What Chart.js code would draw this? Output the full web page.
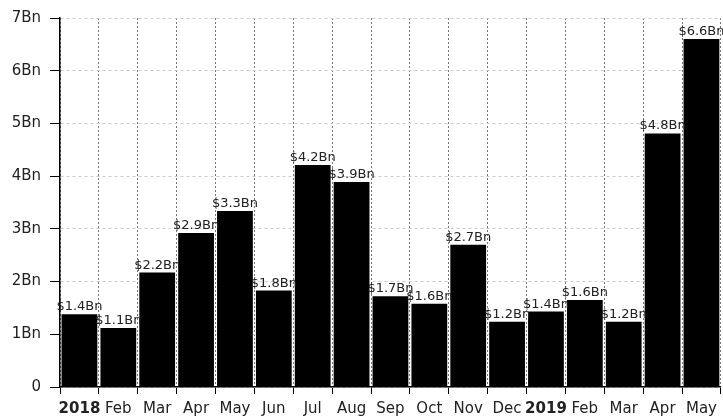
<!DOCTYPE html>
<html>
<head>
<meta charset="utf-8">
<script src="https://cdn.jsdelivr.net/npm/chart.js@4"></script>
<style>
  html, body { margin: 0; padding: 0; background: #fff; }
  #wrap { width: 723px; height: 419px; }
</style>
</head>
<body>
<div id="wrap"><canvas id="salesChart"></canvas></div>
<script>
// month labels (years shown in bold)
const months = ['2018', 'Feb', 'Mar', 'Apr', 'May', 'Jun', 'Jul', 'Aug', 'Sep', 'Oct', 'Nov', 'Dec',
                '2019', 'Feb', 'Mar', 'Apr', 'May'];
// values in billions
const values = [1.38, 1.12, 2.17, 2.92, 3.34, 1.83, 4.21, 3.89, 1.72, 1.58, 2.70, 1.24,
                1.43, 1.65, 1.24, 4.81, 6.60];
const yTicks = [0, 1, 2, 3, 4, 5, 6, 7];

const FONT = 'DejaVu Sans';

// draws "$x.xBn" above each bar
const valueLabels = {
    id: 'valueLabels',
    afterDatasetsDraw(chart) {
        const ctx = chart.ctx;
        const meta = chart.getDatasetMeta(0);
        ctx.save();
        ctx.font = '13px "' + FONT + '"';
        ctx.fillStyle = '#222';
        ctx.textAlign = 'center';
        ctx.textBaseline = 'alphabetic';
        meta.data.forEach((bar, i) => {
            ctx.fillText('$' + values[i].toFixed(1) + 'Bn', bar.x, bar.y - 4);
        });
        ctx.restore();
    }
};

const ctx = document.getElementById('salesChart').getContext('2d');

new Chart(ctx, {
    type: 'bar',
    data: {
        labels: months,
        datasets: [{
            data: values,
            backgroundColor: '#000',
            borderWidth: 0,
            categoryPercentage: 1.0,
            barPercentage: 0.92
        }]
    },
    options: {
        responsive: true,
        maintainAspectRatio: false,
        animation: false,
        layout: { padding: { top: 16, right: 1, left: 0, bottom: 0 } },
        plugins: {
            legend: { display: false },
            tooltip: { enabled: false }
        },
        scales: {
            x: {
                grid: {
                    offset: true,
                    color: '#777',
                    tickColor: '#000',
                    tickLength: 7,
                    tickBorderDash: []
                },
                border: { display: true, color: '#000', width: 1.5, dash: [2, 2] },
                ticks: {
                    color: '#222',
                    padding: 6,
                    maxRotation: 0,
                    autoSkip: false,
                    font: c => ({
                        family: FONT,
                        size: 15,
                        weight: /^\d{4}$/.test(months[c.index]) ? 'bold' : 'normal'
                    })
                },
                afterFit: s => { s.height = 32; }
            },
            y: {
                min: 0,
                max: 7,
                afterBuildTicks: s => { s.ticks = yTicks.map(v => ({ value: v })); },
                grid: {
                    color: '#ccc',
                    tickColor: '#000',
                    tickLength: 10,
                    tickBorderDash: []
                },
                border: { display: true, color: '#000', width: 1.5, dash: [3, 3] },
                ticks: {
                    color: '#222',
                    padding: 9,
                    font: { family: FONT, size: 15 },
                    callback: v => v === 0 ? '0' : v + 'Bn'
                },
                afterFit: s => { s.width = 60; }
            }
        }
    },
    plugins: [valueLabels]
});
</script>
</body>
</html>
